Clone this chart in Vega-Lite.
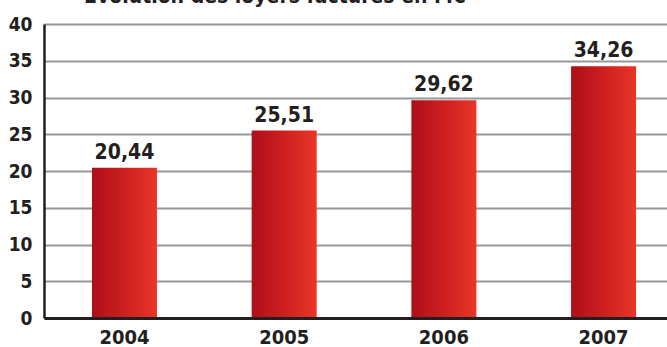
{
  "$schema": "https://vega.github.io/schema/vega-lite/v6.json",
  "autosize": "none",
  "width": 623,
  "height": 294,
  "padding": {"left": 44, "top": 24, "right": 0, "bottom": 29},
  "background": "white",
  "title": {
    "text": "Évolution des loyers facturés en M€",
    "anchor": "start",
    "frame": "group",
    "dx": 40,
    "dy": 13,
    "offset": 4,
    "baseline": "alphabetic",
    "font": "Liberation Sans Narrow, DejaVu Sans Condensed, sans-serif",
    "fontSize": 21,
    "fontWeight": "bold",
    "color": "#231f20"
  },
  "data": {
    "values": [
      {"annee": "2004", "loyers": 20.44, "label": "20,44"},
      {"annee": "2005", "loyers": 25.51, "label": "25,51"},
      {"annee": "2006", "loyers": 29.62, "label": "29,62"},
      {"annee": "2007", "loyers": 34.26, "label": "34,26"}
    ]
  },
  "config": {
    "view": {"stroke": null},
    "font": "Liberation Sans Narrow, DejaVu Sans Condensed, sans-serif"
  },
  "encoding": {
    "x": {
      "field": "annee",
      "type": "ordinal",
      "scale": {"paddingInner": 0.593, "paddingOuter": 0.247, "align": 0.608},
      "axis": {
        "title": null,
        "labelAngle": 0,
        "labelFontSize": 20,
        "labelFontWeight": "bold",
        "labelColor": "#231f20",
        "labelPadding": 9,
        "labelBaseline": "top",
        "ticks": false,
        "domainColor": "#231f20",
        "domainWidth": 3,
        "grid": false,
        "zindex": 2
      }
    },
    "y": {
      "field": "loyers",
      "type": "quantitative",
      "scale": {"domain": [0, 40], "nice": false},
      "axis": {
        "title": null,
        "values": [0, 5, 10, 15, 20, 25, 30, 35, 40],
        "labelFontSize": 19,
        "labelFontWeight": "bold",
        "labelColor": "#231f20",
        "labelPadding": 12,
        "ticks": false,
        "domainColor": "#231f20",
        "domainWidth": 2.5,
        "gridColor": "#98979c",
        "gridWidth": 2,
        "gridOpacity": 1,
        "zindex": 0
      }
    }
  },
  "layer": [
    {
      "mark": {
        "type": "bar",
        "color": {
          "gradient": "linear",
          "x1": 0, "y1": 0, "x2": 1, "y2": 0,
          "stops": [
            {"offset": 0, "color": "#ad0f19"},
            {"offset": 0.5, "color": "#cc2020"},
            {"offset": 1, "color": "#ea3528"}
          ]
        }
      }
    },
    {
      "mark": {
        "type": "text",
        "dy": -9,
        "baseline": "alphabetic",
        "fontSize": 21,
        "fontWeight": "bold",
        "color": "#231f20"
      },
      "encoding": {"text": {"field": "label"}}
    }
  ]
}
